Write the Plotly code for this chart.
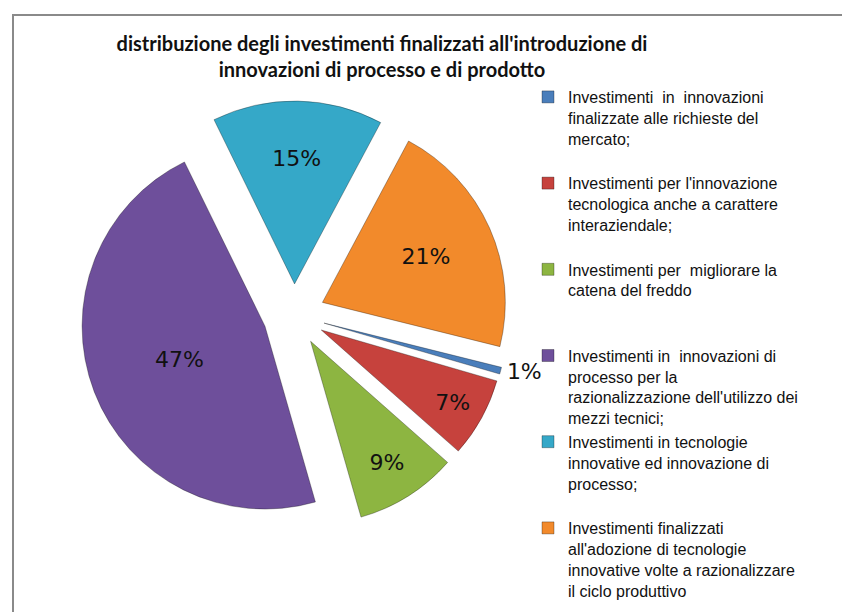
import plotly.graph_objects as go

labels = [
    "Investimenti  in  innovazioni<br>finalizzate alle richieste del<br>mercato;",
    "Investimenti per l'innovazione<br>tecnologica anche a carattere<br>interaziendale;",
    "Investimenti per  migliorare la<br>catena del freddo",
    "Investimenti in  innovazioni di<br>processo per la<br>razionalizzazione dell'utilizzo dei<br>mezzi tecnici;",
    "Investimenti in tecnologie<br>innovative ed innovazione di<br>processo;",
    "Investimenti finalizzati<br>all'adozione di tecnologie<br>innovative volte a razionalizzare<br>il ciclo produttivo",
]
values = [0.6, 7, 9, 47, 15, 21]
colors = ["#4A7EBB", "#C6423D", "#8DB541", "#6E4F9B", "#35A8C8", "#F28A2B"]
label_pos = ["outside", "inside", "inside", "inside", "inside", "inside"]
title = "distribuzione degli investimenti finalizzati all'introduzione di<br>innovazioni di processo e di prodotto"

# pad legend entries to 4 lines each (Excel-like equal slots)
legend_names = []
for lab in labels:
    n = lab.count("<br>") + 1
    legend_names.append(lab + "<br>&nbsp;" * max(0, 4 - n))

W, H = 850, 612
cx, cy, R = 286, 307, 214

fig = go.Figure(go.Pie(
    labels=legend_names,
    values=values,
    sort=False,
    direction="clockwise",
    rotation=104,
    pull=0.17,
    marker=dict(colors=colors, line=dict(color="rgba(0,0,0,0.3)", width=1)),
    texttemplate="%{percent:.0%}",
    textposition=label_pos,
    insidetextorientation="horizontal",
    textfont=dict(family="DejaVu Sans", size=22, color="#111111"),
    hoverinfo="label+percent",
    domain=dict(x=[(cx - R) / W, (cx + R) / W], y=[1 - (cy + R) / H, 1 - (cy - R) / H]),
))

fig.update_layout(
    width=W, height=H,
    margin=dict(l=0, r=0, t=0, b=0),
    paper_bgcolor="white",
    plot_bgcolor="white",
    title=dict(text="<b>" + title + "</b>", x=374 / W, xanchor="center", y=1 - 43 / H, yanchor="top",
               font=dict(family="Lato", size=20, color="#111111")),
    showlegend=True,
    legend=dict(x=520 / W, xanchor="left", y=1 - 72 / H, yanchor="top",
                font=dict(family="Liberation Sans", size=16, color="#111111"),
                valign="top", bgcolor="rgba(0,0,0,0)", itemwidth=30),
    shapes=[dict(type="rect", xref="paper", yref="paper", x0=5 / W, y0=-0.1, x1=1.1, y1=1 - 7 / H,
                 line=dict(color="#8A8A8A", width=2), fillcolor="rgba(0,0,0,0)")],
)

fig.write_html("out.html")
